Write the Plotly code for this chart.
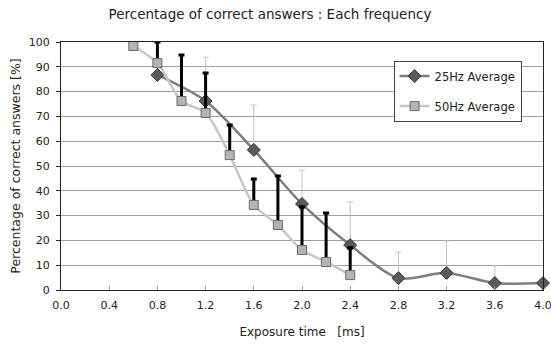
import plotly.graph_objects as go

# 25Hz series
x25 = [0.8, 1.2, 1.6, 2.0, 2.4, 2.8, 3.2, 3.6, 4.0]
y25 = [86.7, 76.2, 56.5, 34.7, 18.1, 4.8, 6.9, 2.8, 2.8]
err25 = [13.0, 17.7, 18.1, 13.7, 17.4, 10.5, 12.9, 6.9, 0.0]

# 50Hz series
x50 = [0.6, 0.8, 1.0, 1.2, 1.4, 1.6, 1.8, 2.0, 2.2, 2.4]
y50 = [98.4, 91.5, 76.2, 71.4, 54.4, 34.3, 26.2, 16.1, 11.3, 6.0]
err50 = [1.6, 8.5, 18.6, 16.1, 12.1, 10.5, 19.8, 17.5, 19.7, 11.0]

xticks = [0.0, 0.4, 0.8, 1.2, 1.6, 2.0, 2.4, 2.8, 3.2, 3.6, 4.0]
yticks = [0, 10, 20, 30, 40, 50, 60, 70, 80, 90, 100]

FONT = "DejaVu Sans"

fig = go.Figure()
fig.add_trace(go.Scatter(
    x=x25, y=y25, name="25Hz Average", mode="lines+markers", legendgroup="a",
    line=dict(color="#7e7e7e", width=2.5, shape="spline", smoothing=0.8),
    marker=dict(symbol="diamond", size=10, color="#5a5a5a", line=dict(color="#3a3a3a", width=1)),
    error_y=dict(type="data", array=err25, arrayminus=[0]*len(err25), symmetric=False,
                 color="#c4c4c4", thickness=1, width=3),
    cliponaxis=False,
))
fig.add_trace(go.Scatter(
    x=x50, y=y50, name="50Hz Average", mode="lines+markers", legendgroup="b",
    line=dict(color="#c6c6c6", width=2.5, shape="spline", smoothing=0.8),
    marker=dict(symbol="square", size=9, color="#b4b4b4", line=dict(color="#6a6a6a", width=1)),
    error_y=dict(type="data", array=err50, arrayminus=[0]*len(err50), symmetric=False,
                 color="#000000", thickness=3, width=3),
    cliponaxis=False,
))

fig.update_layout(
    width=551, height=345,
    margin=dict(l=61, r=8, t=42, b=55),
    paper_bgcolor="white", plot_bgcolor="white",
    font=dict(family=FONT, size=11, color="#222"),
    title=dict(text="Percentage of correct answers : Each frequency", x=0.49, xanchor="center",
               y=0.96, yanchor="middle", font=dict(family=FONT, size=13.5, color="#222")),
    showlegend=True,
    legend=dict(x=0.69, y=0.925, xanchor="left", yanchor="top", bgcolor="white",
                bordercolor="#444", borderwidth=1, font=dict(size=11.5, color="#222"),
                traceorder="grouped", tracegroupgap=11, itemwidth=30),
)
fig.update_xaxes(
    range=[0, 4], tickvals=xticks, ticktext=[f"{v:.1f}" for v in xticks],
    showgrid=False, zeroline=False, showline=True, linecolor="#222", linewidth=1, mirror=True,
    ticks="inside", ticklen=4, tickcolor="#999", ticklabeloverflow="allow", ticklabelstandoff=5,
    automargin=False,
    title=dict(text="Exposure time   [ms]", font=dict(size=12, color="#222"), standoff=16),
)
fig.update_yaxes(
    range=[0, 100], tickvals=yticks,
    showgrid=True, gridcolor="#a0a0a0", gridwidth=1, zeroline=False,
    showline=True, linecolor="#222", linewidth=1, mirror=True,
    ticks="outside", ticklen=4, tickcolor="#222", ticklabelstandoff=4,
    automargin=False,
    title=dict(text="Percentage of correct answers [%]", font=dict(size=12.5, color="#222"), standoff=5),
)

fig.write_html("out.html")
